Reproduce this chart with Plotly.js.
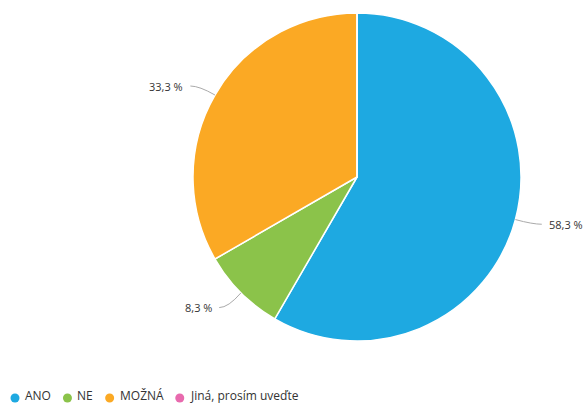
<!DOCTYPE html>
<html><head><meta charset="utf-8">
<script src="https://cdn.plot.ly/plotly-3.0.1.min.js"></script>
<style>html,body{margin:0;padding:0;background:#fff}#chart{width:584px;height:406px}</style>
</head><body><div id="chart"></div>
<script>
const categories = ["ANO", "NE", "MOŽNÁ", "Jiná, prosím uveďte"];
const percentValues = [58.3, 8.3, 33.3, 0];
const colors = ["#1EA9E1", "#8BC34A", "#FBA924", "#E86AAE"];

const W = 584, H = 406;
const cx = 357, cy = 177, R = 164;
const FONT = "Open Sans, Noto Sans, sans-serif";
const TXT = "#333333";

function fmt(v){ return v.toFixed(1).replace('.', ',') + ' %'; }

const pie = {
  type: 'pie',
  labels: categories,
  values: percentValues,
  sort: false,
  direction: 'clockwise',
  rotation: 0,
  textinfo: 'none',
  hoverinfo: 'label+percent',
  showlegend: false,
  marker: {colors: colors, line: {color: '#ffffff', width: 1.5}},
  domain: {x: [(cx - R) / W, (cx + R) / W], y: [(H - cy - R) / H, (H - cy + R) / H]}
};

function draw(){
  const shapes = [], annotations = [];
  const total = percentValues.reduce((a, b) => a + b, 0);
  let cum = 0;
  percentValues.forEach((v, i) => {
    if (v <= 0) { return; }
    const mid = (cum + v / 2) / total * 2 * Math.PI;
    cum += v;
    const dx = Math.sin(mid), dy = -Math.cos(mid);
    const ex = cx + R * dx, ey = cy + R * dy;
    const kx = cx + (R + 18) * dx, ky = cy + (R + 18) * dy + (dy > 0.5 ? 2 : 0);
    const side = dx >= 0 ? 1 : -1;
    const tx = kx + side * 9, ty = ky;
    shapes.push({type: 'path', xref: 'x', yref: 'y',
      path: `M ${ex} ${ey} Q ${kx} ${ky} ${tx} ${ty}`,
      line: {color: '#aaaaaa', width: 1}});
    annotations.push({xref: 'x', yref: 'y', x: tx + side * 5, y: ty,
      xanchor: side > 0 ? 'left' : 'right', yanchor: 'middle',
      text: fmt(v), showarrow: false, font: {family: FONT, size: 11, color: TXT}});
  });

  const ctx = document.createElement('canvas').getContext('2d');
  ctx.font = "12px 'Open Sans'";
  let lx = 15;
  const ly = 398;
  categories.forEach((c, i) => {
    shapes.push({type: 'circle', xref: 'x', yref: 'y',
      x0: lx - 4.5, x1: lx + 4.5, y0: ly - 4.5, y1: ly + 4.5,
      fillcolor: colors[i], line: {width: 0}});
    annotations.push({xref: 'x', yref: 'y', x: lx + 8, y: H, xanchor: 'left', yanchor: 'bottom',
      text: c, showarrow: false, font: {family: FONT, size: 12, color: TXT}});
    const w = ctx.measureText(c).width;
    lx += 10 + w + 16.5;
  });

  const layout = {
    width: W, height: H,
    margin: {l: 0, r: 0, t: 0, b: 0},
    paper_bgcolor: '#ffffff', plot_bgcolor: 'rgba(0,0,0,0)',
    showlegend: false,
    xaxis: {range: [0, W], visible: false, fixedrange: true},
    yaxis: {range: [H, 0], visible: false, fixedrange: true},
    shapes: shapes,
    annotations: annotations
  };

  Plotly.newPlot('chart', [pie, {type: 'scatter', x: [null], y: [null], showlegend: false, hoverinfo: 'skip'}], layout, {displayModeBar: false});
}

if (document.fonts && document.fonts.load) {
  document.fonts.load("12px 'Open Sans'").then(draw, draw);
} else { draw(); }
</script></body></html>
